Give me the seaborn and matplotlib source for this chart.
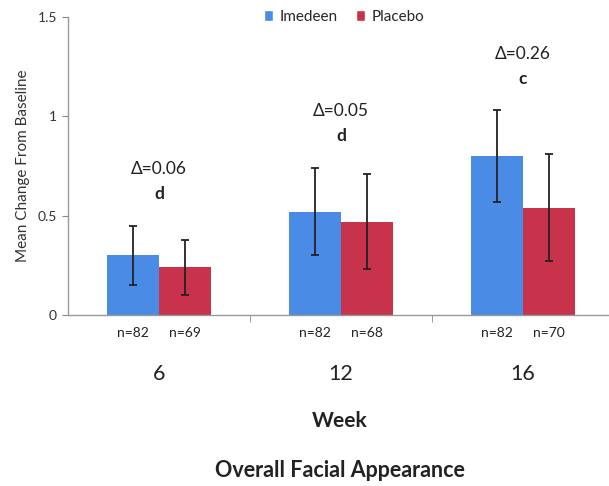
import matplotlib
matplotlib.use("Agg")
import matplotlib.pyplot as plt
from matplotlib.patches import Patch
import seaborn as sns
import pandas as pd

weeks = ["6", "12", "16"]
groups = ["Imedeen", "Placebo"]
imedeen = [0.30, 0.52, 0.80]
placebo = [0.24, 0.47, 0.54]
imedeen_err = [0.15, 0.22, 0.23]
placebo_err = [0.14, 0.24, 0.27]
n_imedeen = ["n=82", "n=82", "n=82"]
n_placebo = ["n=69", "n=68", "n=70"]
deltas = ["Δ=0.06", "Δ=0.05", "Δ=0.26"]
letters = ["d", "d", "c"]
yticks = [0, 0.5, 1, 1.5]
ytick_labels = ["0", "0.5", "1", "1.5"]

blue = "#4A8BE6"
red = "#C8324A"

sns.set_style("white")
plt.rcParams["font.family"] = ["Lato", "DejaVu Sans"]

df = pd.DataFrame({
    "week": weeks * 2,
    "group": [groups[0]] * 3 + [groups[1]] * 3,
    "value": imedeen + placebo,
})

fig = plt.figure(figsize=(6.09, 4.86), dpi=100)
ax = fig.add_axes([68 / 609, 171 / 486, 546 / 609, 298 / 486])

sns.barplot(data=df, x="week", y="value", hue="group", order=weeks,
            hue_order=groups, palette=[blue, red], width=0.566,
            errorbar=None, saturation=1, linewidth=0, ax=ax, legend=False)

errs = [imedeen_err, placebo_err]
vals = [imedeen, placebo]
ns = [n_imedeen, n_placebo]
for cont, v, e, nl in zip(ax.containers, vals, errs, ns):
    xs = [b.get_x() + b.get_width() / 2 for b in cont]
    ax.errorbar(xs, v, yerr=e, fmt="none", ecolor="#222222",
                elinewidth=1.3, capsize=3.2, capthick=1.3, zorder=3)
    for x, t in zip(xs, nl):
        ax.text(x, -0.06, t, transform=ax.get_xaxis_transform(),
                ha="center", va="center", fontsize=10, color="#222222")

tops = [max(a + b, c + d) for a, b, c, d in zip(imedeen, imedeen_err, placebo, placebo_err)]
for i, (dl, lt, tp) in enumerate(zip(deltas, letters, tops)):
    ax.text(i, tp + 0.285, dl, ha="center", va="center", fontsize=12.5, color="#222222")
    ax.text(i, tp + 0.16, lt, ha="center", va="center", fontsize=12.5,
            fontweight="bold", color="#222222")

ax.set_xlim(-0.5, 2.5)
ax.set_ylim(0, 1.5)
ax.set_yticks(yticks)
ax.set_yticklabels(ytick_labels, fontsize=10, color="#333333")
ax.set_xticks(range(3))
ax.set_xticklabels(weeks, fontsize=15.5, color="#222222")
ax.set_xticks([0.5, 1.5], minor=True)
ax.tick_params(axis="x", which="major", length=0, pad=35)
ax.tick_params(axis="x", which="minor", length=5, color="#888888", direction="out", bottom=True)
ax.tick_params(axis="y", length=4, color="#888888", direction="out", left=True, pad=4)
ax.set_xlabel("")
ax.set_ylabel("Mean Change From Baseline", fontsize=11, color="#333333", labelpad=5)
for s in ["top", "right"]:
    ax.spines[s].set_visible(False)
for s in ["left", "bottom"]:
    ax.spines[s].set_color("#999999")
    ax.spines[s].set_linewidth(1)

handles = [Patch(facecolor=blue, label=groups[0]), Patch(facecolor=red, label=groups[1])]
ax.legend(handles=handles, loc="center", bbox_to_anchor=((344 - 68) / 546, 1.0),
          bbox_transform=ax.transAxes, ncol=2, frameon=False,
          fontsize=11, handlelength=0.6, handleheight=0.7, handletextpad=0.4,
          columnspacing=1.2)

fig.text(340 / 609, (486 - 421) / 486, "Week", ha="center", va="center",
         fontsize=15, fontweight="bold", color="#222222")
fig.text(340 / 609, (486 - 470) / 486, "Overall Facial Appearance", ha="center",
         va="center", fontsize=15.5, fontweight="bold", color="#222222")

fig.savefig("out.png", dpi=100)
